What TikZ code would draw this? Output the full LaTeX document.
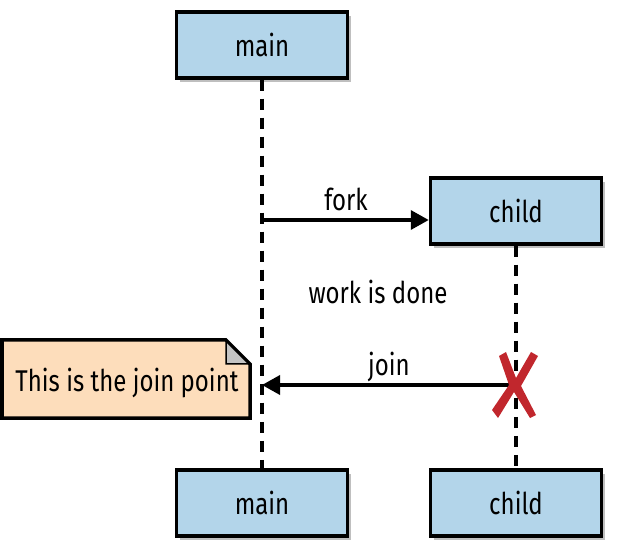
\documentclass[tikz,border=0pt]{standalone}
\usepackage{fontspec}
\setmainfont{Fira Sans}[FakeStretch=0.8]
\usetikzlibrary{shadows,arrows.meta}
\definecolor{boxblue}{HTML}{B3D5EA}
\definecolor{notepeach}{HTML}{FDDDBB}
\definecolor{foldgray}{HTML}{C4C4C4}
\definecolor{xred}{HTML}{C1272D}
\tikzset{
  x=1pt,y=-1pt,
  actor/.style={draw=black, line width=3.5pt, fill=boxblue, minimum width=171pt, minimum height=66pt,
    inner sep=0pt, font=\fontsize{30}{34}\selectfont,
    drop shadow={shadow xshift=3pt, shadow yshift=-4pt, opacity=0.25, fill=black}},
  lifeline/.style={line width=3.5pt, dash pattern=on 11pt off 8pt},
  msg/.style={line width=3.5pt, -{Triangle[length=18pt,width=19pt]}},
  lbl/.style={font=\fontsize{30}{34}\selectfont, inner sep=0pt},
}
\begin{document}
\begin{tikzpicture}
\useasboundingbox (0,0) rectangle (625,559);
\coordinate (mainF) at (262,220);
\coordinate (childJ) at (516,385);
\coordinate (mainJ) at (262,385);
\node[actor] (mtop) at (262,45) {main};
\node[actor] (ctop) at (516,211) {child};
\node[actor] (mbot) at (262,503) {main};
\node[actor] (cbot) at (516,503) {child};
\draw[lifeline] (mtop.south) -- (mbot.north);
\draw[lifeline] (ctop.south) -- (cbot.north);
\draw[msg] (mainF) -- (ctop.west |- mainF);
\node[lbl] (forkl) at (346,199) {fork};
\node[lbl] (work) at (378,292) {work is done};
\draw[msg] (childJ) -- (mainJ);
\node[lbl] (joinl) at (389,367) {join};
% X
\fill[xred] (506,352) -- (516,378) -- (531,352) -- (538,356) -- (521,386) -- (536,415) -- (530,418) -- (514,392) -- (498,418) -- (492,410) -- (509,385) -- (499,356) -- cycle;
% note
\filldraw[line width=3.5pt, fill=notepeach] (2,340) -- (226,340) -- (250,364) -- (250,418) -- (2,418) -- cycle;
\filldraw[line width=1.5pt, fill=foldgray] (226,341) -- (226,364) -- (249,364) -- cycle;
\node[lbl] (note) at (127,383) {This is the join point};
\end{tikzpicture}
\end{document}
